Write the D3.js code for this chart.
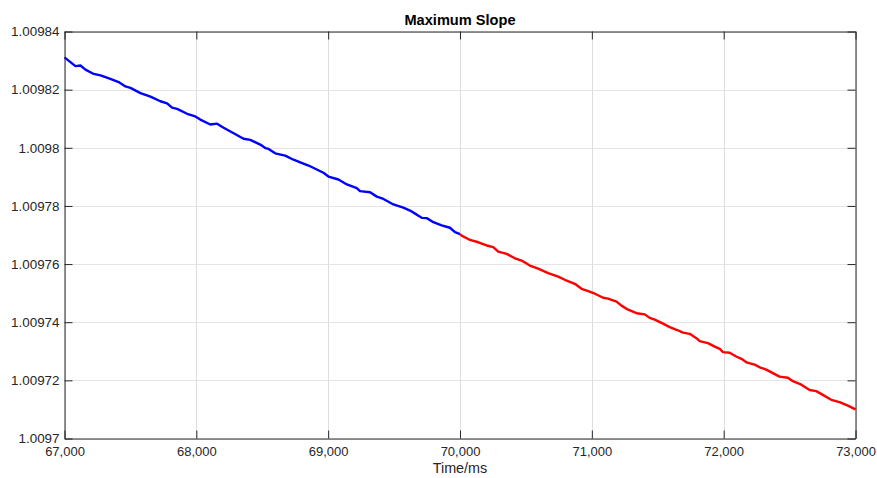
<!DOCTYPE html>
<html>
<head>
<meta charset="utf-8">
<script src="https://cdn.jsdelivr.net/npm/d3@7"></script>
<style>
  body { margin: 0; background: #fff; }
  svg { font-family: "Liberation Sans", Arial, sans-serif; }
</style>
</head>
<body>
<svg id="chart" width="877" height="478"></svg>
<script>
// Tick values
const xTicks = [67000, 68000, 69000, 70000, 71000, 72000, 73000];
const yTicks = [1.0097, 1.00972, 1.00974, 1.00976, 1.00978, 1.0098, 1.00982, 1.00984];

// First segment (blue), time in ms
const blueTime = [67000, 67083, 67121, 67159, 67222, 67273, 67348, 67411, 67462, 67500,
  67576, 67652, 67727, 67778, 67816, 67854, 67930, 67992, 68030, 68106,
  68157, 68207, 68283, 68358, 68409, 68485, 68523, 68548, 68598, 68674,
  68737, 68788, 68851, 68902, 68964, 69002, 69078, 69142, 69217, 69242,
  69318, 69369, 69419, 69495, 69570, 69621, 69672, 69710, 69748, 69798,
  69861, 69924, 69962, 70000];
const blueValue = [1.0098311, 1.0098281, 1.0098283, 1.0098269, 1.0098254, 1.0098249, 1.0098237, 1.0098226, 1.0098211, 1.0098206,
  1.0098188, 1.0098176, 1.0098160, 1.0098153, 1.0098138, 1.0098134, 1.0098117, 1.0098108, 1.0098097, 1.0098080,
  1.0098083, 1.0098069, 1.0098050, 1.0098031, 1.0098027, 1.0098011, 1.0097999, 1.0097996, 1.0097981, 1.0097973,
  1.0097959, 1.0097950, 1.0097939, 1.0097928, 1.0097914, 1.0097901, 1.0097891, 1.0097874, 1.0097861, 1.0097851,
  1.0097847, 1.0097832, 1.0097824, 1.0097805, 1.0097794, 1.0097784, 1.0097770, 1.0097759, 1.0097758, 1.0097744,
  1.0097733, 1.0097725, 1.0097710, 1.0097703];

// Second segment (red)
const redTime = [70000, 70013, 70076, 70139, 70202, 70252, 70290, 70354, 70417, 70467,
  70530, 70593, 70669, 70745, 70795, 70871, 70922, 70972, 71023, 71086,
  71123, 71187, 71225, 71275, 71339, 71402, 71439, 71477, 71540, 71591,
  71642, 71692, 71742, 71793, 71818, 71881, 71932, 71970, 71995, 72045,
  72095, 72134, 72172, 72235, 72273, 72323, 72373, 72424, 72487, 72525,
  72589, 72652, 72702, 72752, 72816, 72879, 72942, 73000];
const redValue = [1.0097703, 1.0097698, 1.0097683, 1.0097675, 1.0097664, 1.0097658, 1.0097643, 1.0097635, 1.0097620, 1.0097612,
  1.0097595, 1.0097584, 1.0097569, 1.0097557, 1.0097546, 1.0097532, 1.0097515, 1.0097507, 1.0097498, 1.0097484,
  1.0097481, 1.0097471, 1.0097457, 1.0097443, 1.0097431, 1.0097427, 1.0097415, 1.0097409, 1.0097395, 1.0097383,
  1.0097374, 1.0097364, 1.0097360, 1.0097345, 1.0097335, 1.0097328, 1.0097316, 1.0097308, 1.0097297, 1.0097295,
  1.0097282, 1.0097274, 1.0097262, 1.0097254, 1.0097245, 1.0097237, 1.0097225, 1.0097213, 1.0097209, 1.0097197,
  1.0097185, 1.0097167, 1.0097163, 1.0097150, 1.0097133, 1.0097125, 1.0097113, 1.0097100];

const svg = d3.select("#chart");
const margin = { left: 64.5, right: 855.5, top: 31.5, bottom: 438.5 };
const axisColor = "#262626";

const x = d3.scaleLinear().domain([67000, 73000]).range([margin.left, margin.right]);
const y = d3.scaleLinear().domain([1.0097, 1.00984]).range([margin.bottom, margin.top]);

// Grid
svg.append("g")
  .selectAll("line")
  .data(xTicks)
  .enter()
  .append("line")
  .attr("x1", (d) => Math.round(x(d)) + 0.5)
  .attr("x2", (d) => Math.round(x(d)) + 0.5)
  .attr("y1", margin.top)
  .attr("y2", margin.bottom)
  .attr("stroke", "#dedede");

svg.append("g")
  .selectAll("line")
  .data(yTicks)
  .enter()
  .append("line")
  .attr("x1", margin.left)
  .attr("x2", margin.right)
  .attr("y1", (d) => Math.round(y(d)) + 0.5)
  .attr("y2", (d) => Math.round(y(d)) + 0.5)
  .attr("stroke", "#e4e4e4");

// Lines
const line = d3.line()
  .x((d) => x(d[0]))
  .y((d) => y(d[1]));

svg.append("path")
  .datum(d3.zip(blueTime, blueValue))
  .attr("d", line)
  .attr("fill", "none")
  .attr("stroke", "#0000ff")
  .attr("stroke-width", 2.4)
  .attr("stroke-linejoin", "round");

svg.append("path")
  .datum(d3.zip(redTime, redValue))
  .attr("d", line)
  .attr("fill", "none")
  .attr("stroke", "#ff0000")
  .attr("stroke-width", 2.4)
  .attr("stroke-linejoin", "round");

// Axes box with inward ticks on every side
const tickLen = 8;
const fmtY = (d) => d3.format(".5f")(d).replace(/0+$/, "").replace(/\.$/, "");
const fmtX = d3.format(",");

svg.append("g")
  .attr("class", "xaxis")
  .attr("transform", `translate(0,${margin.bottom})`)
  .call(d3.axisBottom(x).tickValues(xTicks).tickFormat(fmtX).tickSizeInner(-tickLen).tickSizeOuter(0).tickPadding(8.5));
svg.append("g")
  .attr("transform", `translate(0,${margin.top})`)
  .call(d3.axisTop(x).tickValues(xTicks).tickFormat("").tickSizeInner(-tickLen).tickSizeOuter(0));
svg.append("g")
  .attr("class", "yaxis")
  .attr("transform", `translate(${margin.left},0)`)
  .call(d3.axisLeft(y).tickValues(yTicks).tickFormat(fmtY).tickSizeInner(-tickLen).tickSizeOuter(0).tickPadding(5));
svg.append("g")
  .attr("transform", `translate(${margin.right},0)`)
  .call(d3.axisRight(y).tickValues(yTicks).tickFormat("").tickSizeInner(-tickLen).tickSizeOuter(0));

svg.selectAll(".domain, .tick line").attr("stroke", axisColor);
svg.selectAll(".tick text")
  .attr("fill", axisColor)
  .attr("font-family", "Liberation Sans, Arial, sans-serif");
svg.selectAll(".xaxis .tick text").attr("font-size", "13px");
svg.selectAll(".yaxis .tick text").attr("font-size", "13.4px");

// Title and label
svg.append("text")
  .attr("x", (margin.left + margin.right) / 2)
  .attr("y", 25)
  .attr("text-anchor", "middle")
  .attr("font-size", "14.6px")
  .attr("font-weight", "bold")
  .attr("fill", "#000")
  .text("Maximum Slope");

svg.append("text")
  .attr("x", (margin.left + margin.right) / 2)
  .attr("y", 473)
  .attr("text-anchor", "middle")
  .attr("font-size", "14.4px")
  .attr("fill", axisColor)
  .text("Time/ms");
</script>
</body>
</html>
